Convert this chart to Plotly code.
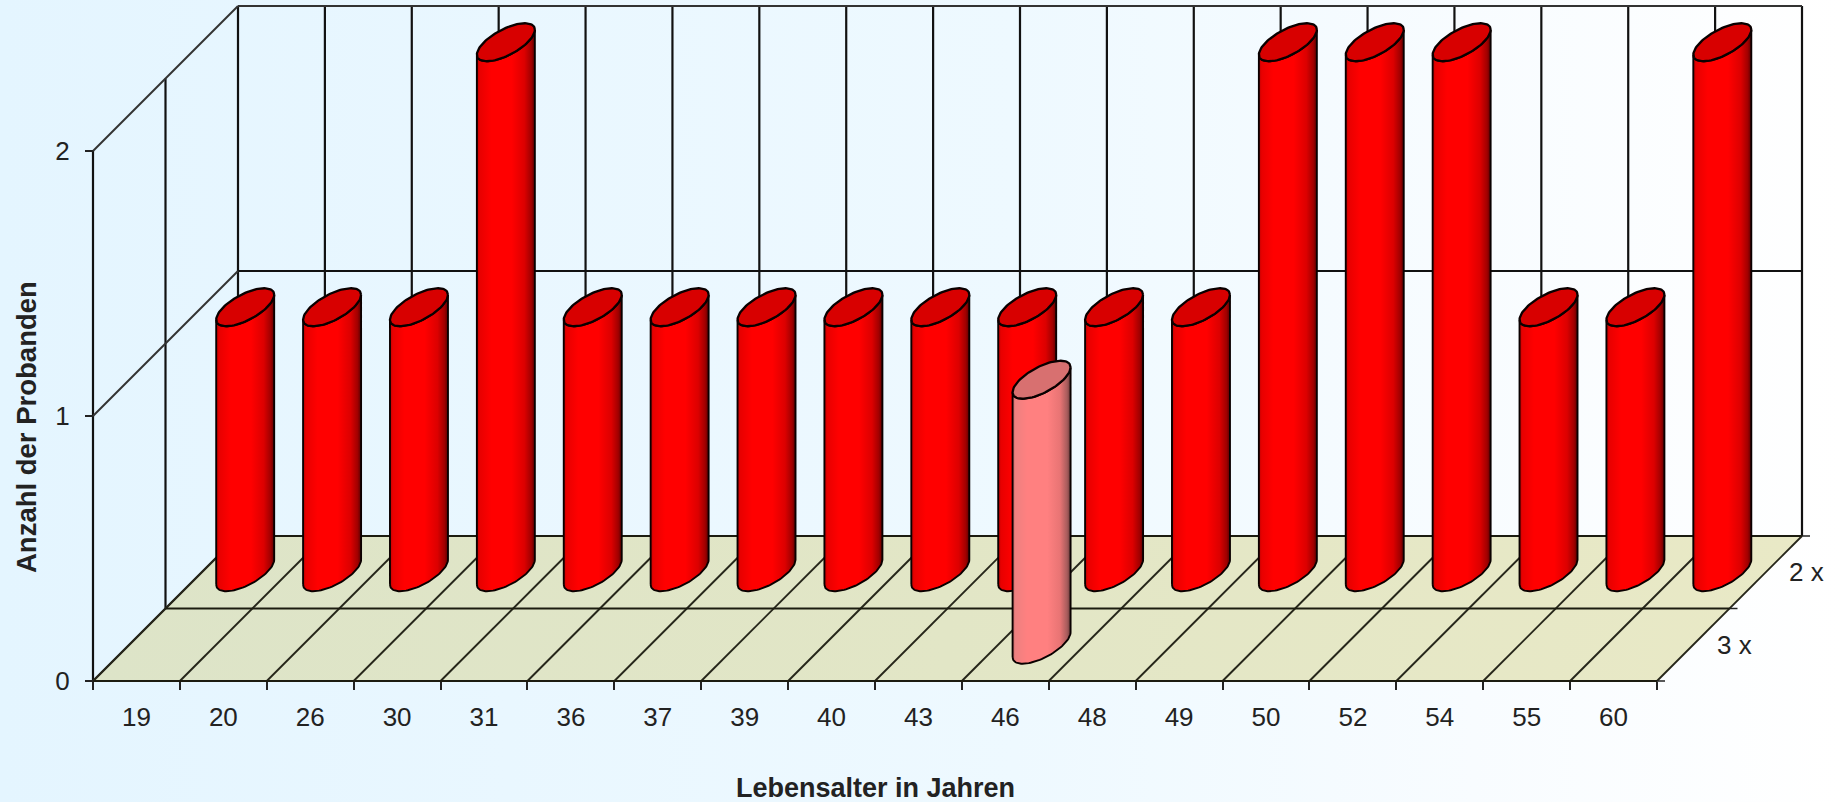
import math
import plotly.graph_objects as go

# ---- data -------------------------------------------------------------
categories = ["19", "20", "26", "30", "31", "36", "37", "39", "40",
              "43", "46", "48", "49", "50", "52", "54", "55", "60"]
row_labels = ["3 x", "2 x"]
values_3x = [0, 0, 0, 0, 0, 0, 0, 0, 0, 0, 1, 0, 0, 0, 0, 0, 0, 0]
values_2x = [1, 1, 1, 2, 1, 1, 1, 1, 1, 1, 1, 1, 2, 2, 2, 1, 1, 2]
y_ticks = [0, 1, 2]
x_title = "Lebensalter in Jahren"
y_title = "Anzahl der Probanden"

# ---- page and oblique projection --------------------------------------
W, H = 1841, 802
ORIGIN_X, ORIGIN_Y = 93.0, 681.0
CAT_PX = 1564.0 / 18
VAL_PX = 265.0
DEPTH_PX = 72.5
N = len(categories)
YMAX = 2
DMAX = 2
RAD_CAT = 21.9 / CAT_PX
RAD_DEPTH = 19.0 / DEPTH_PX
FONT = "Liberation Sans, Arial, sans-serif"
TEXT = "#222222"


def proj(cat, val, depth):
    """category position, value, depth row -> axis coordinates"""
    return cat + depth * DEPTH_PX / CAT_PX, val + depth * DEPTH_PX / VAL_PX


x_range = [(0 - ORIGIN_X) / CAT_PX, (W - ORIGIN_X) / CAT_PX]
y_range = [(ORIGIN_Y - H) / VAL_PX, ORIGIN_Y / VAL_PX]

fig = go.Figure()


def poly(points, **kw):
    xs, ys = zip(*[proj(*p) for p in points])
    fig.add_trace(go.Scatter(x=list(xs), y=list(ys), mode="lines",
                             hoverinfo="skip", showlegend=False, **kw))


def rule(points, color="#111111", width=2.2):
    poly(points, line=dict(color=color, width=width))


# background
fig.add_trace(go.Scatter(
    x=[x_range[0], x_range[1], x_range[1], x_range[0], x_range[0]],
    y=[y_range[0], y_range[0], y_range[1], y_range[1], y_range[0]],
    mode="lines", line=dict(width=0), fill="toself", hoverinfo="skip", showlegend=False,
    fillgradient=dict(type="horizontal",
                      colorscale=[[0, "#E4F5FF"], [0.55, "#EEF9FF"], [0.8, "#F8FCFF"], [1, "#FFFFFF"]]),
))

# floor
poly([(0, 0, 0), (N, 0, 0), (N, 0, DMAX), (0, 0, DMAX), (0, 0, 0)],
     line=dict(width=0), fill="toself",
     fillgradient=dict(type="horizontal",
                       colorscale=[[0, "#DDE4C8"], [0.5, "#E2E6C6"], [1, "#E9E9C6"]]))

# back wall
for c in range(N + 1):
    rule([(c, 0, DMAX), (c, YMAX, DMAX)])
for v in y_ticks:
    rule([(0, v, DMAX), (N, v, DMAX)], color="#333333" if v == 2 else "#111111")

# left wall
rule([(0, 0, 0), (0, YMAX, 0)])
rule([(0, 0, 1), (0, YMAX, 1)])
for v in y_ticks:
    rule([(0, v, 0), (0, v, DMAX)], color="#333333", width=1.9)

# floor grid
for c in range(N + 1):
    rule([(c, 0, 0), (c, 0, DMAX)], color="#26261A", width=1.9)
for d in range(DMAX + 1):
    rule([(0, 0, d), (N, 0, d)], color="#1C1C10", width=2.2)
# depth tick marks
for d in range(DMAX + 1):
    rule([(N, 0, d), (N + 8 / CAT_PX, 0, d)], color=TEXT, width=1.5)

RED_BODY = [[0, "#C00000"], [0.05, "#E80000"], [0.25, "#FF0000"], [0.6, "#FF0000"],
            [0.82, "#DC0000"], [0.94, "#A00000"], [1, "#5A0000"]]
PINK_BODY = [[0, "#C86868"], [0.05, "#EE8080"], [0.25, "#FF8080"], [0.6, "#FF8080"],
             [0.82, "#E87474"], [0.94, "#A85C5C"], [1, "#6A3A3A"]]


def cylinder(i, value, depth, body, top):
    cx = i + 0.5
    t_r = math.atan2(RAD_DEPTH * DEPTH_PX, RAD_CAT * CAT_PX)
    steps = 48
    front = [t_r + math.pi + math.pi * k / steps for k in range(steps + 1)]
    full = [t_r + 2 * math.pi * k / (2 * steps) for k in range(2 * steps + 1)]

    def rim(t, v):
        return (cx + RAD_CAT * math.cos(t), v, depth + RAD_DEPTH * math.sin(t))

    pts = [rim(t, 0) for t in front] + [rim(t, value) for t in reversed(front)]
    pts.append(pts[0])
    poly(pts, line=dict(color="#0A0000", width=1.9), fill="toself",
         fillgradient=dict(type="horizontal", colorscale=body))
    poly([rim(t, value) for t in full], line=dict(color="#0A0000", width=2.3),
         fill="toself", fillcolor=top)


for i, v in enumerate(values_2x):
    if v:
        cylinder(i, v, 1.5, RED_BODY, "#D80000")
for i, v in enumerate(values_3x):
    if v:
        cylinder(i, v, 0.5, PINK_BODY, "#D87070")

# row labels
for d, lab in zip([0.5, 1.5], row_labels):
    px, py = proj(N + 41 / CAT_PX, 0, d)
    fig.add_annotation(x=px, y=py, xref="x", yref="y", text=lab, showarrow=False,
                       font=dict(family=FONT, size=26, color=TEXT))

# axis titles
fig.add_annotation(x=875 / W, y=1 - 788 / H, xref="paper", yref="paper", text=x_title,
                   showarrow=False, xanchor="center", yanchor="middle",
                   font=dict(family=FONT, size=27, color=TEXT, weight=700))
fig.add_annotation(x=26 / W, y=1 - 427 / H, xref="paper", yref="paper", text=y_title,
                   textangle=-90, showarrow=False, xanchor="center", yanchor="middle",
                   font=dict(family=FONT, size=27.5, color=TEXT, weight=700))

fig.update_layout(
    width=W, height=H, margin=dict(l=0, r=0, t=0, b=0),
    paper_bgcolor="#E6F6FF", plot_bgcolor="rgba(0,0,0,0)", showlegend=False,
    font=dict(family=FONT, size=26, color=TEXT),
    xaxis=dict(
        range=x_range, anchor="free", position=(H - ORIGIN_Y) / H,
        showgrid=False, zeroline=False, showline=False,
        tickmode="array",
        tickvals=[i + 0.5 for i in range(N)], ticktext=categories,
        ticks="", ticklabelstandoff=18,
        tickfont=dict(family=FONT, size=26, color=TEXT),
        minor=dict(tickmode="array", tickvals=list(range(N + 1)), ticks="outside",
                   ticklen=8, tickwidth=1.5, tickcolor=TEXT, showgrid=False),
    ),
    yaxis=dict(
        range=y_range, anchor="free", position=ORIGIN_X / W,
        showgrid=False, zeroline=False, showline=False,
        tickmode="array", tickvals=y_ticks, ticktext=[str(v) for v in y_ticks],
        ticks="outside", ticklen=8, tickwidth=1.5, tickcolor=TEXT,
        ticklabelstandoff=10,
        tickfont=dict(family=FONT, size=26, color=TEXT),
    ),
)

fig.write_html("out.html", post_script="document.body.style.margin='0';",
               config=dict(displayModeBar=False))
